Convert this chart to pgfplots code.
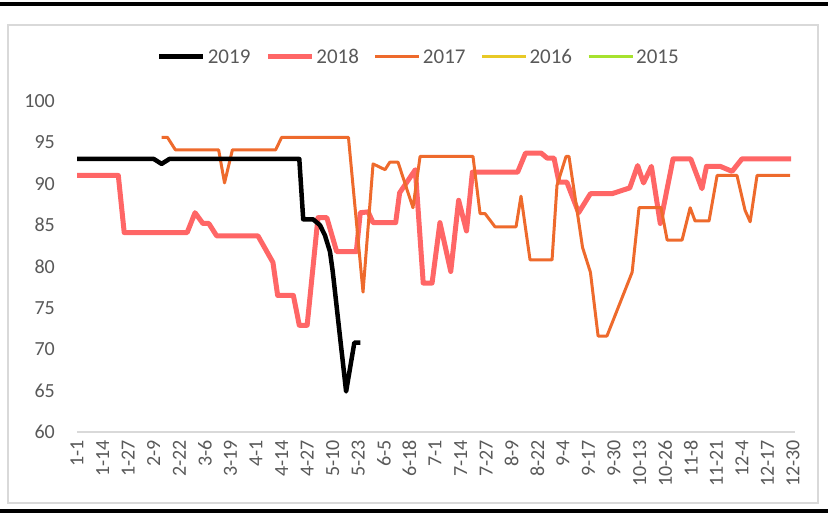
\documentclass[border=0pt]{standalone}
\usepackage{fontspec}
\setmainfont{Carlito}
\usepackage{pgfplots}
\pgfplotsset{compat=1.18}
\definecolor{c19}{HTML}{000000}
\definecolor{c18}{HTML}{FF6666}
\definecolor{c17}{HTML}{EE6A2C}
\definecolor{c16}{HTML}{E8C926}
\definecolor{c15}{HTML}{A6E22E}
\definecolor{txt}{HTML}{595959}
\definecolor{frame}{HTML}{D9D9D9}
\begin{document}
\begin{tikzpicture}[x=1pt,y=1pt]
\useasboundingbox (0,0) rectangle (828,515);
\draw[line width=4pt] (0,510.5) -- (828,510.5);
\draw[line width=3.5pt] (0,4) -- (828,4);
\draw[frame, line width=1.2pt] (8,12) rectangle (818,490);
\begin{axis}[at={(77pt,83pt)}, anchor=south west, scale only axis,
  width=718pt, height=331pt,
  xmin=0, xmax=365, ymin=60, ymax=100,
  axis x line=bottom, axis y line=left,
  axis line style={-},
  y axis line style={draw=none},
  x axis line style={-, draw=frame, line width=1.2pt},
  major tick length=0pt,
  xtick={0,13,...,364},
  xticklabels={1-1,1-14,1-27,2-9,2-22,3-6,3-19,4-1,4-14,4-27,5-10,5-23,6-5,6-18,7-1,7-14,7-27,8-9,8-22,9-4,9-17,9-30,10-13,10-26,11-8,11-21,12-4,12-17,12-30},
  ytick={60,65,...,100},
  yticklabels={60,65,70,75,80,85,90,95,100},
  tick label style={font=\fontsize{20}{22}\selectfont, text=txt},
  xticklabel style={yshift=-8pt, rotate=90, anchor=east, inner sep=0pt},
  yticklabel style={xshift=-22pt, anchor=east, inner sep=0pt},
  clip=false,
  legend style={at={(axis description cs:0.476,1.133)}, anchor=center, draw=none, fill=none,
    legend columns=5, font=\fontsize{21}{23}\selectfont, text=txt,
    /tikz/every even column/.append style={column sep=13pt}},
  legend image code/.code={\draw[#1] (0pt,0pt) -- (44pt,0pt);},
]
\addlegendimage{c19, line width=5pt}
\addlegendentry{2019}
\addplot[c18, line width=5pt, line join=round] coordinates {
(0,91.0)(21,91.0)(24,84.1)(56,84.1)(60,86.5)(64,85.2)(67,85.2)(71,83.7)(92,83.7)(99.6,80.5)(102,76.5)(110,76.5)(113,72.9)(117,72.9)(122.5,85.9)(127,85.9)(132,81.8)(142,81.8)(144,86.5)(148,86.6)(150.5,85.3)(162,85.3)(164,88.9)(168,90.3)(172,91.7)(176,78.0)(180.5,78.0)(184.5,85.3)(190,79.4)(194,88.0)(198,84.3)(201,91.4)(224,91.4)(228,93.7)(236,93.7)(239,93.1)(242.5,93.1)(245,90.2)(249,90.2)(255,86.5)(261,88.8)(272,88.8)(281,89.5)(285,92.2)(288,90.1)(292,92.1)(296.5,85.2)(303,93.0)(312,93.0)(317.7,89.4)(320,92.1)(327,92.1)(333,91.5)(338,93.0)(363,93.0)};
\addlegendentry{2018}
\addplot[c17, line width=3pt, line join=round] coordinates {
(43,95.6)(46,95.6)(50,94.1)(72,94.1)(75,90.1)(79,94.1)(101,94.1)(104,95.6)(138,95.6)(145.4,76.9)(150.5,92.4)(156.6,91.7)(159,92.6)(163.2,92.6)(170.8,87.1)(174.4,93.3)(201.3,93.3)(204.9,86.4)(207.4,86.4)(212.5,84.8)(223.2,84.8)(225.7,88.5)(230.3,80.8)(241.5,80.8)(244,89.8)(248.6,93.3)(250.1,93.3)(257,82.3)(261,79.3)(264.9,71.6)(269.4,71.6)(282.2,79.3)(285.7,87.1)(296.9,87.1)(300,83.2)(307.6,83.2)(311.7,87.1)(314.2,85.5)(321.3,85.5)(325.4,91.0)(335.5,91.0)(339.6,86.8)(342.2,85.4)(345.7,91.0)(362.5,91.0)};
\addlegendentry{2017}
\addlegendimage{c16, line width=3pt}
\addlegendentry{2016}
\addlegendimage{c15, line width=3pt}
\addlegendentry{2015}
\addplot[c19, line width=4.5pt, line join=round, forget plot] coordinates {
(0,93.0)(39,93.0)(43,92.4)(47,93.0)(113,93.0)(115,85.7)(120,85.7)(123.5,85.0)(126,83.8)(128.6,81.8)(130,79.4)(136.8,64.9)(141,70.8)(144,70.8)};
\end{axis}
\end{tikzpicture}
\end{document}
